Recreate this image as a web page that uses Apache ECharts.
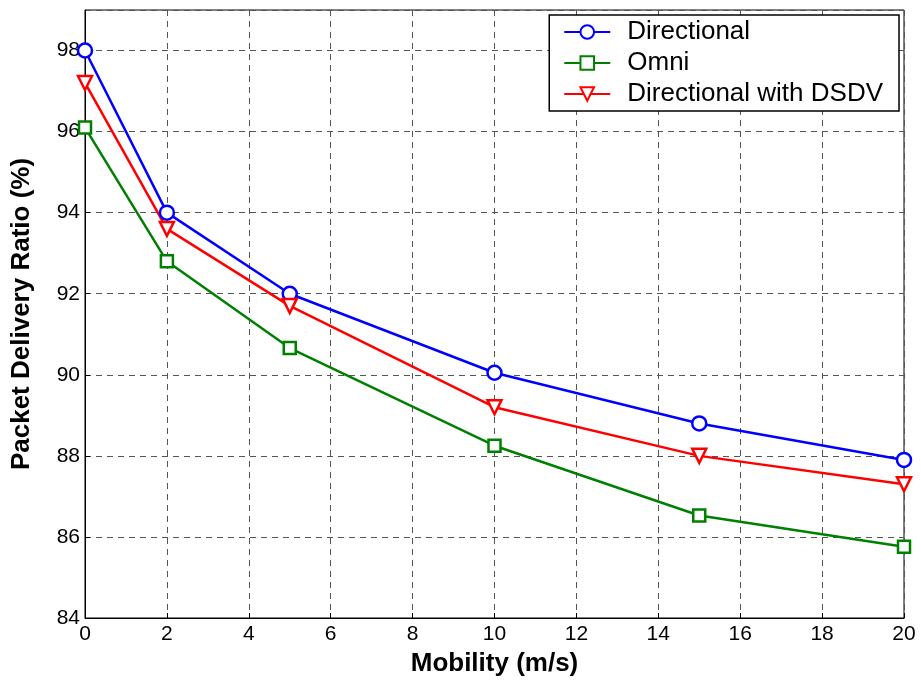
<!DOCTYPE html>
<html>
<head>
<meta charset="utf-8">
<script src="https://cdn.jsdelivr.net/npm/echarts@6/dist/echarts.min.js"></script>
<style>html,body{margin:0;padding:0;background:#fff}#c{width:921px;height:687px}</style>
</head>
<body>
<div id="c"></div>
<script>
var mobility = [0, 2, 5, 10, 15, 20];
var directional = [98.0, 94.0, 92.0, 90.05, 88.8, 87.9];
var omni = [96.1, 92.8, 90.66, 88.25, 86.53, 85.76];
var directionalDSDV = [97.2, 93.6, 91.7, 89.2, 88.0, 87.3];
var seriesNames = ['Directional', 'Omni', 'Directional with DSDV'];

function pairs(ys) { return mobility.map(function (x, i) { return [x, ys[i]]; }); }

var font = 'Liberation Sans, Arial, sans-serif';
var chart = echarts.init(document.getElementById('c'));
function mk(name, data, color, symbol, size, rot) {
  return {
    name: name, type: 'line', data: pairs(data),
    symbol: symbol, symbolSize: size, symbolRotate: rot || 0,
    lineStyle: { color: color, width: 2.5 },
    itemStyle: { color: '#fff', borderColor: color, borderWidth: 2.5 },
    emphasis: { disabled: true }, z: 3
  };
}
chart.setOption({
  animation: false,
  backgroundColor: '#fff',
  grid: { left: 85, top: 10, right: 17, bottom: 69, show: true, borderColor: '#000', borderWidth: 1, backgroundColor: 'transparent' },
  legend: {
    orient: 'vertical', right: 22, top: 15,
    backgroundColor: '#fff', borderColor: '#000', borderWidth: 1.5,
    padding: [4, 16, 4, 14], itemGap: 5, itemWidth: 46, itemHeight: 17,
    textStyle: { fontFamily: font, fontSize: 26, color: '#000', padding: [0, 0, 0, 12] },
    data: seriesNames
  },
  xAxis: {
    type: 'value', min: 0, max: 20, interval: 2,
    name: 'Mobility (m/s)', nameLocation: 'middle', nameGap: 33,
    nameTextStyle: { fontFamily: font, fontSize: 26, fontWeight: 'bold', color: '#000' },
    axisLine: { show: true, lineStyle: { color: '#000', width: 1 } },
    axisTick: { show: true, inside: true, length: 5, lineStyle: { color: '#000' } },
    axisLabel: { fontFamily: font, fontSize: 21, color: '#000', margin: 6 },
    splitLine: { show: true, lineStyle: { color: '#555', type: [6, 5], width: 1 } }
  },
  yAxis: {
    type: 'value', min: 84, max: 99, interval: 2,
    name: 'Packet Delivery Ratio (%)', nameLocation: 'middle', nameGap: 50,
    nameTextStyle: { fontFamily: font, fontSize: 26, fontWeight: 'bold', color: '#000' },
    axisLine: { show: true, lineStyle: { color: '#000', width: 1 } },
    axisTick: { show: true, inside: true, length: 5, lineStyle: { color: '#000' } },
    axisLabel: { fontFamily: font, fontSize: 21, color: '#000', margin: 5, showMaxLabel: false },
    splitLine: { show: true, lineStyle: { color: '#555', type: [6, 5], width: 1 } }
  },
  series: [
    mk(seriesNames[0], directional, '#0000ff', 'circle', 14),
    mk(seriesNames[1], omni, '#008000', 'rect', 12),
    mk(seriesNames[2], directionalDSDV, '#ff0000', 'triangle', 14, 180)
  ]
});
</script>
</body>
</html>
